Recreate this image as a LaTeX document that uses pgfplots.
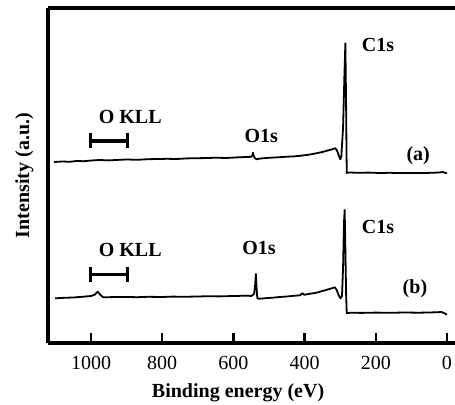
\documentclass[border=0pt]{standalone}
\usepackage{pgfplots}
\pgfplotsset{compat=1.18}
\usepackage{fontspec}
\setmainfont{Liberation Serif}

% XPS survey, two spectra stacked with an offset (y in arbitrary units)
\pgfplotstableread{
x y
1104 181.0
1080 181.5
1060 181.2
1040 182.0
1020 181.8
1000 182.5
975 183.0
950 182.6
920 183.2
900 183.5
870 183.2
840 183.8
810 184.0
787 184.2
760 184.0
730 184.6
700 184.8
670 185.0
650 185.3
620 185.0
590 185.6
565 186.0
550 186.2
547 187.5
545 190.3
543 187.0
540 185.0
535 183.7
525 184.5
500 185.2
470 185.8
450 186.3
430 186.6
413 187.2
390 188.2
370 189.5
350 191.0
335 192.5
322 193.8
314 194.8
309 192.5
304 187.5
300 183.7
297 186.0
292 215.0
288 270.0
285.5 299.7
283.5 240.0
282.3 190.0
281.5 170.0
276 170.5
250 170.2
220 170.4
190 170.0
160 170.2
130 169.9
100 170.1
70 170.0
40 170.2
20 170.6
12 171.0
6 170.2
0 169.7
}\spectrumA

\pgfplotstableread{
x y
1101 44.7
1075 45.2
1050 45.5
1025 46.2
1000 47.0
990 48.2
981 51.3
975 48.5
966 45.7
940 45.9
900 46.0
870 45.8
840 46.2
800 46.0
770 46.4
740 46.2
700 46.5
670 46.8
640 46.6
600 47.0
575 47.2
563 47.4
550 47.0
542 49.0
539 58.0
537 69.0
535 55.0
533 45.0
528 44.2
510 44.8
490 45.3
470 46.0
450 46.5
430 47.2
413 47.7
406 49.8
401 48.2
385 49.3
370 50.0
355 51.5
340 53.0
325 54.5
315 55.7
310 53.0
304 47.5
299 44.7
295 47.0
292 75.0
289.5 120.0
287.5 133.0
285.5 95.0
283.5 50.0
281.7 29.9
270 30.3
240 30.1
200 30.4
160 30.2
120 30.5
80 30.3
50 30.5
25 30.8
15 31.0
6 29.5
0 28.3
}\spectrumB

\begin{document}
\begin{tikzpicture}[font=\fontsize{20bp}{24bp}\selectfont]
\begin{axis}[
    name=ax,
    scale only axis,
    width=407bp,
    height=335bp,
    x dir=reverse,
    xmin=-22.5, xmax=1121,
    ymin=0, ymax=335,
    axis x line=box,
    axis y line=left,
    axis line style={line width=4.8bp, -},
    xtick={0,200,400,600,800,1000},
    xtick pos=left,
    ytick=\empty,
    tick align=inside,
    major tick length=10bp,
    every tick/.style={black, line width=2.5bp},
    /pgf/number format/assume math mode=true,
    /pgf/number format/1000 sep={},
    xticklabel style={font=\fontsize{20bp}{24bp}\selectfont, yshift=-10bp},
    xlabel={\textbf{Binding energy (eV)}},
    ylabel={\textbf{Intensity (a.u.)}},
    xlabel style={at={(axis description cs:0.467,0)}, anchor=north, yshift=-37bp},
    ylabel style={at={(axis description cs:0,0.5)}, anchor=south, yshift=11bp},
]
\addplot[black, line width=1.8bp, line join=round, mark=none] table[x=x, y=y] {\spectrumA};
\addplot[black, line width=1.8bp, line join=round, mark=none] table[x=x, y=y] {\spectrumB};

% O KLL range bars
\addplot[black, line width=3.5bp, mark=|, mark size=7.5bp, mark options={line width=3.5bp}] coordinates {(1001,202) (898,202)};
\addplot[black, line width=3.5bp, mark=|, mark size=7.5bp, mark options={line width=3.5bp}] coordinates {(1001,68.7) (898,68.7)};

\node[font=\bfseries\fontsize{20bp}{24bp}\selectfont] at (axis cs:194,298) {C1s};
\node[font=\bfseries\fontsize{20bp}{24bp}\selectfont] at (axis cs:890,226) {O KLL};
\node[font=\bfseries\fontsize{20bp}{24bp}\selectfont] at (axis cs:522,207) {O1s};
\node[font=\bfseries\fontsize{20bp}{24bp}\selectfont] at (axis cs:81,187) {(a)};
\node[font=\bfseries\fontsize{20bp}{24bp}\selectfont] at (axis cs:194,116.3) {C1s};
\node[font=\bfseries\fontsize{20bp}{24bp}\selectfont] at (axis cs:890,93) {O KLL};
\node[font=\bfseries\fontsize{20bp}{24bp}\selectfont] at (axis cs:528,94.7) {O1s};
\node[font=\bfseries\fontsize{20bp}{24bp}\selectfont] at (axis cs:90,54) {(b)};
\end{axis}
\pgfresetboundingbox
\path[use as bounding box] ([shift={(-48bp,-62bp)}]ax.south west) rectangle ([shift={(0bp,8bp)}]ax.north east);
\end{tikzpicture}
\end{document}
